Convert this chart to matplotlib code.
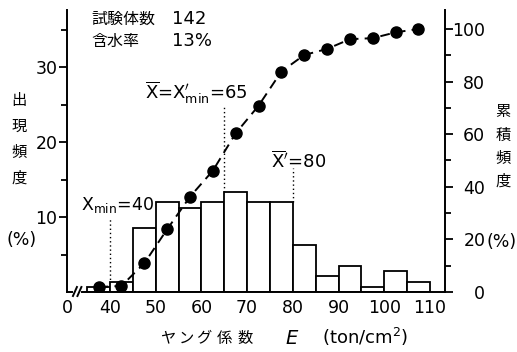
import matplotlib
matplotlib.use("Agg")
import matplotlib.pyplot as plt
from matplotlib.ticker import FixedLocator

# Young's modulus histogram (class width 5 ton/cm2) and cumulative frequency
bin_left = [35, 40, 45, 50, 55, 60, 65, 70, 75, 80, 85, 90, 95, 100, 105]
bin_width = 5
freq_pct = [0.7, 1.4, 8.5, 12.0, 11.2, 12.0, 13.4, 12.0, 12.0, 6.3, 2.1, 3.5, 0.7, 2.8, 1.4]
cum_pct = [1.9, 2.3, 10.9, 23.8, 36.2, 46.1, 60.3, 70.8, 83.8, 90.1, 92.4, 96.1, 96.5, 98.7, 100.0]

x_ticks = [40, 50, 60, 70, 80, 90, 100, 110]
x_tick_labels = ["40", "50", "60", "70", "80", "90", "100", "110"]
left_major = [10, 20, 30]
left_minor = [5, 15, 25, 35]
right_major = [0, 20, 40, 60, 80, 100]
right_minor = [10, 30, 50, 70, 90]

X_LO, X_HI = 30.6, 113.3
Y_HI = 37.6
Y2_HI = 107.2

plt.rcParams["mathtext.fontset"] = "dejavusans"
JP = ["Noto Sans CJK JP", "DejaVu Sans"]

W, H = 517, 352
fig = plt.figure(figsize=(W / 100, H / 100), dpi=100)
ax = fig.add_axes([67 / W, 1 - 292 / H, (445 - 67) / W, (292 - 10) / H])
ax2 = ax.twinx()

# histogram
ax.bar(bin_left, freq_pct, width=bin_width, align="edge", facecolor="white",
       edgecolor="black", linewidth=1.3, zorder=2)
ax.set_xlim(X_LO, X_HI)
ax.set_ylim(0, Y_HI)

# cumulative curve at class mid-points
mids = [b + bin_width / 2 for b in bin_left]
ax2.plot(mids, cum_pct, color="black", lw=1.4, ls=(0, (5, 3.2)),
         marker="o", ms=8, zorder=5)
ax2.set_ylim(0, Y2_HI)

for s in ("top", "right", "bottom"):
    ax.spines[s].set_visible(False)
for s in ("top", "left", "bottom"):
    ax2.spines[s].set_visible(False)
ax.spines["left"].set_linewidth(1.4)
ax2.spines["right"].set_linewidth(1.4)

# broken base line
def px_x(px):
    return X_LO + (px - 67) / 4.6

def px_y(py):
    return (292 - py) / 7.5

kw = dict(color="black", lw=1.4, clip_on=False, zorder=3)
ax.plot([X_LO, px_x(72)], [0, 0], **kw)
ax.plot([px_x(73), px_x(77)], [px_y(296), px_y(287)], **kw)
ax.plot([px_x(77.5), px_x(81.5)], [px_y(296), px_y(287)], **kw)
ax.plot([px_x(82), X_HI], [0, 0], **kw)

# ticks
ax.set_xticks([X_LO] + x_ticks)
ax.set_xticklabels(["0"] + x_tick_labels, fontsize=12.5)
ax.tick_params(axis="x", length=0, pad=5)

ax.yaxis.set_major_locator(FixedLocator(left_major))
ax.yaxis.set_minor_locator(FixedLocator(left_minor))
ax.set_yticklabels([str(v) for v in left_major], fontsize=12.5)
ax.tick_params(axis="y", which="major", length=6, width=1.3, pad=1)
ax.tick_params(axis="y", which="minor", length=4, width=1.3)

ax2.yaxis.set_major_locator(FixedLocator(right_major))
ax2.yaxis.set_minor_locator(FixedLocator(right_minor))
ax2.set_yticklabels([str(v) for v in right_major], fontsize=12.5)
ax2.tick_params(axis="y", which="major", length=6, width=1.3, pad=23)
ax2.tick_params(axis="y", which="minor", length=4, width=1.3)
for lab in ax2.get_yticklabels():
    lab.set_horizontalalignment("right")

# reference lines
dot = dict(color="black", lw=1.0, ls=(0, (1, 2)), zorder=1)
ax.plot([40, 40], [0, px_y(217)], **dot)
ax.plot([65, 65], [13.4, px_y(107)], **dot)
ax.plot([80, 80], [12.0, px_y(168)], **dot)


def ftext(px, py, s, **k):
    fig.text(px / W, 1 - py / H, s, **k)


# annotations
ftext(145, 93, r"$\overline{\mathrm{X}}$=X$^{\prime}_{\mathrm{min}}$=65",
      fontsize=13, va="center", ha="left")
ftext(271, 161, r"$\overline{\mathrm{X}}^{\prime}$=80", fontsize=13, va="center", ha="left")
ftext(81, 205, r"X$_{\mathrm{min}}$=40", fontsize=12.5, va="center", ha="left")

ftext(91, 19, "試験体数", family=JP, fontsize=11.5, va="center", ha="left")
ftext(172, 19, "142", fontsize=13, va="center", ha="left")
ftext(91, 41, "含水率", family=JP, fontsize=11.5, va="center", ha="left")
ftext(172, 41, "13%", fontsize=13, va="center", ha="left")

# axis titles, set vertically one character at a time
for ch, py in zip("出現頻度", [100, 126, 152, 178]):
    ftext(19, py, ch, family=JP, fontsize=11, va="center", ha="center")
ftext(22, 240, "(%)", fontsize=12.5, va="center", ha="center")

for ch, py in zip("累積頻度", [112, 135, 158, 181]):
    ftext(503, py, ch, family=JP, fontsize=11, va="center", ha="center")
ftext(487, 242, "(%)", fontsize=12.5, va="center", ha="left")

for ch, px in zip("ヤング係数", [168, 186, 204, 224, 245]):
    ftext(px, 338, ch, family=JP, fontsize=11, va="center", ha="center")
ftext(292, 338, "$E$", fontsize=14, va="center", ha="center")
ftext(322, 337, "(ton/cm$^{2}$)", fontsize=13, va="center", ha="left")

fig.savefig("out.png", dpi=100)
